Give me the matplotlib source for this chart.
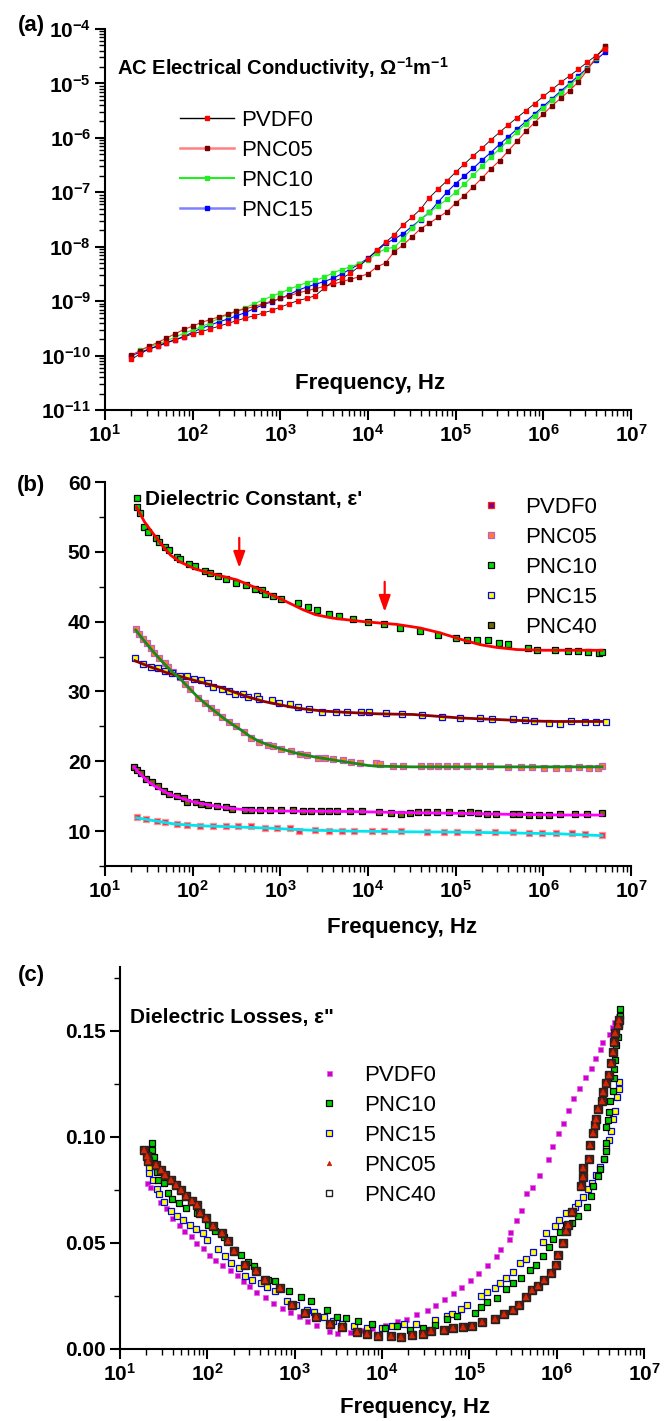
import numpy as np
import matplotlib
matplotlib.use('Agg')
import matplotlib.pyplot as plt
from matplotlib.ticker import LogLocator, MultipleLocator, NullFormatter, FormatStrFormatter
from matplotlib.lines import Line2D

plt.rcParams['font.family'] = ['Liberation Sans', 'DejaVu Sans']
plt.rcParams['mathtext.fontset'] = 'custom'
plt.rcParams['mathtext.rm'] = 'Liberation Sans'
plt.rcParams['mathtext.bf'] = 'Liberation Sans:bold'
plt.rcParams['mathtext.it'] = 'Liberation Sans:italic'

# ---------------- (a) AC conductivity, log10 values ----------------
a_logf = [1.3, 1.4, 1.5, 1.6, 1.7, 1.8, 1.9, 2.0, 2.1, 2.2, 2.3, 2.4, 2.5, 2.6,
          2.7, 2.8, 2.9, 3.0, 3.1, 3.2, 3.3, 3.4, 3.5, 3.6, 3.7, 3.8, 3.9, 4.0,
          4.1, 4.2, 4.3, 4.4, 4.5, 4.6, 4.7, 4.8, 4.9, 5.0, 5.1, 5.2, 5.3, 5.4,
          5.5, 5.6, 5.7, 5.8, 5.9, 6.0, 6.1, 6.2, 6.3, 6.4, 6.5, 6.6, 6.7]
a_pvdf0 = [-10.07, -9.97, -9.88, -9.82, -9.76, -9.71, -9.66, -9.60, -9.56, -9.51,
           -9.46, -9.41, -9.36, -9.31, -9.27, -9.22, -9.17, -9.11, -9.05, -8.99,
           -8.95, -8.90, -8.76, -8.64, -8.58, -8.49, -8.36, -8.22, -8.06, -7.92,
           -7.78, -7.60, -7.46, -7.31, -7.10, -6.94, -6.79, -6.63, -6.48, -6.33,
           -6.19, -6.04, -5.90, -5.76, -5.63, -5.50, -5.37, -5.24, -5.11, -4.98,
           -4.86, -4.74, -4.61, -4.49, -4.37]
a_pnc05 = [-9.99, -9.91, -9.83, -9.76, -9.68, -9.60, -9.52, -9.46, -9.39, -9.34,
           -9.29, -9.24, -9.18, -9.14, -9.10, -9.05, -9.00, -8.95, -8.90, -8.85,
           -8.81, -8.77, -8.73, -8.69, -8.64, -8.60, -8.55, -8.50, -8.37, -8.30,
           -8.09, -7.97, -7.82, -7.67, -7.57, -7.46, -7.36, -7.20, -7.06, -6.90,
           -6.74, -6.57, -6.42, -6.24, -6.06, -5.88, -5.72, -5.56, -5.41, -5.27,
           -5.13, -4.97, -4.76, -4.52, -4.32]
a_pnc10 = [np.nan, -9.89, -9.84, -9.79, -9.73, -9.66, -9.59, -9.53, -9.47, -9.40,
           -9.31, -9.25, -9.19, -9.12, -9.05, -8.98, -8.91, -8.85, -8.78, -8.72,
           -8.66, -8.62, -8.56, -8.48, -8.42, -8.37, -8.31, -8.25, -8.12, -8.04,
           -8.01, -7.85, -7.66, -7.49, -7.37, -7.25, -7.13, -7.00, -6.85, -6.69,
           -6.52, -6.36, -6.20, -6.05, -5.89, -5.74, -5.59, -5.45, -5.31, -5.17,
           -5.03, -4.90, -4.74, -4.53, -4.31]
a_pnc15 = [-10.00, -9.94, -9.88, -9.83, -9.77, -9.71, -9.65, -9.57, -9.50, -9.44,
           -9.38, -9.33, -9.27, -9.21, -9.14, -9.07, -9.01, -8.95, -8.88, -8.80,
           -8.74, -8.69, -8.64, -8.58, -8.50, -8.41, -8.32, -8.21, -8.08, -7.94,
           -7.86, -7.76, -7.63, -7.50, -7.37, -7.18, -7.00, -6.84, -6.70, -6.56,
           -6.41, -6.27, -6.12, -5.98, -5.84, -5.70, -5.56, -5.42, -5.28, -5.14,
           -5.00, -4.86, -4.72, -4.57, -4.43]

# ---------------- (b) dielectric constant ----------------
b_pnc10_logf = [1.36, 1.36, 1.40, 1.45, 1.49, 1.58, 1.62, 1.68, 1.73, 1.82, 1.86, 1.96,
                2.03, 2.14, 2.20, 2.29, 2.38, 2.49, 2.61, 2.71, 2.79, 2.83, 2.92, 3.01,
                3.20, 3.31, 3.42, 3.55, 3.67, 3.83, 4.00, 4.18, 4.37, 4.59, 4.80, 5.00,
                5.13, 5.24, 5.37, 5.49, 5.60, 5.82, 5.93, 6.13, 6.28, 6.40, 6.51, 6.63, 6.67]
b_pnc10 = [57.7, 56.4, 55.5, 53.5, 52.8, 52.0, 51.4, 50.7, 50.2, 49.3, 48.9, 48.3,
           48.0, 47.3, 47.0, 46.6, 46.1, 45.5, 45.2, 44.7, 44.6, 43.9, 43.7, 43.3,
           42.6, 42.1, 41.6, 41.1, 40.8, 40.4, 40.0, 39.6, 39.1, 38.7, 38.1, 37.6,
           37.4, 37.3, 37.3, 36.9, 36.8, 36.2, 35.9, 35.9, 35.8, 35.8, 35.7, 35.5, 35.7]
b_pnc15_logf = [1.34, 1.43, 1.53, 1.60, 1.68, 1.76, 1.85, 1.94, 2.02, 2.10, 2.17, 2.23,
                2.33, 2.42, 2.48, 2.57, 2.63, 2.73, 2.76, 2.90, 2.99, 3.11, 3.20, 3.33,
                3.48, 3.63, 3.76, 3.92, 4.01, 4.21, 4.39, 4.62, 4.84, 5.05, 5.28, 5.42,
                5.65, 5.79, 5.89, 6.06, 6.19, 6.31, 6.47, 6.60, 6.71]
b_pnc15 = [34.8, 34.0, 33.5, 33.4, 32.9, 32.6, 32.2, 32.2, 31.8, 31.6, 31.2, 30.7,
           30.4, 30.0, 29.6, 29.6, 29.2, 29.3, 28.9, 28.8, 28.4, 28.2, 27.8, 27.5,
           27.1, 27.1, 27.1, 27.1, 27.0, 26.9, 26.7, 26.6, 26.4, 26.2, 26.2, 26.1,
           26.1, 25.9, 25.8, 25.5, 25.4, 25.8, 25.6, 25.6, 25.6]
b_pnc05_logf = [1.35, 1.39, 1.43, 1.48, 1.53, 1.56, 1.62, 1.68, 1.72, 1.77, 1.85, 1.91,
                1.97, 2.06, 2.14, 2.21, 2.27, 2.34, 2.42, 2.50, 2.58, 2.67, 2.76, 2.86,
                2.92, 3.01, 3.12, 3.22, 3.30, 3.43, 3.51, 3.60, 3.71, 3.81, 3.91, 4.09,
                4.14, 4.29, 4.40, 4.61, 4.71, 4.80, 4.90, 5.00, 5.13, 5.27, 5.39, 5.60,
                5.75, 5.87, 6.01, 6.14, 6.28, 6.41, 6.52, 6.62, 6.67]
b_pnc05 = [39.0, 38.3, 37.5, 36.9, 36.2, 35.5, 34.8, 34.1, 33.5, 32.8, 32.0, 31.1,
           30.4, 29.1, 28.4, 27.7, 27.0, 26.3, 25.6, 25.1, 24.2, 23.4, 22.8, 22.4,
           22.2, 21.7, 21.4, 21.0, 20.9, 20.5, 20.4, 20.3, 20.2, 19.9, 19.7, 19.7,
           19.6, 19.3, 19.3, 19.3, 19.3, 19.3, 19.3, 19.3, 19.3, 19.3, 19.3, 19.2,
           19.2, 19.2, 19.1, 19.1, 19.1, 19.2, 19.1, 19.1, 19.3]
b_pnc40_logf = [1.33, 1.36, 1.41, 1.47, 1.54, 1.61, 1.67, 1.73, 1.82, 1.90, 1.94, 2.04,
                2.09, 2.18, 2.28, 2.38, 2.45, 2.60, 2.67, 2.77, 2.88, 3.01, 3.15, 3.26,
                3.35, 3.46, 3.55, 3.65, 3.79, 3.93, 4.13, 4.26, 4.38, 4.48, 4.57, 4.67,
                4.79, 4.92, 5.06, 5.16, 5.26, 5.36, 5.46, 5.65, 5.72, 5.84, 5.95, 6.06,
                6.19, 6.36, 6.50, 6.67]
b_pnc40 = [19.2, 18.8, 18.3, 17.5, 17.0, 16.4, 15.8, 15.3, 15.0, 14.7, 14.1, 14.2,
           13.9, 13.7, 13.6, 13.4, 13.2, 13.0, 13.0, 13.0, 13.0, 13.0, 13.0, 12.9,
           12.9, 12.9, 12.9, 12.9, 12.9, 12.9, 12.8, 12.6, 12.4, 12.6, 12.7, 12.7,
           12.7, 12.7, 12.6, 12.7, 12.6, 12.5, 12.5, 12.5, 12.4, 12.3, 12.3, 12.3,
           12.4, 12.5, 12.5, 12.6]
b_pvdf0_logf = [1.36, 1.47, 1.59, 1.69, 1.82, 1.94, 2.08, 2.23, 2.38, 2.52, 2.67, 2.82,
                2.96, 3.11, 3.21, 3.40, 3.55, 3.70, 3.84, 4.04, 4.18, 4.38, 4.67, 4.87,
                5.01, 5.26, 5.45, 5.65, 5.84, 5.99, 6.14, 6.33, 6.48, 6.67]
b_pvdf0 = [11.95, 11.7, 11.5, 11.3, 11.0, 10.9, 10.8, 10.8, 10.8, 10.7, 10.7, 10.5,
           10.5, 10.4, 10.05, 10.2, 10.05, 10.05, 10.05, 10.05, 10.05, 10.05, 9.9, 9.9,
           9.9, 9.8, 9.8, 9.8, 9.7, 9.7, 9.7, 9.7, 9.6, 9.4]

# fitted curves in (b)
fit10_logf = [1.36, 1.45, 1.55, 1.66, 1.75, 1.85, 1.95, 2.04, 2.27, 2.50, 2.73, 3.03,
              3.26, 3.40, 3.60, 3.95, 4.33, 4.59, 4.82, 5.05, 5.28, 5.47, 5.70, 6.00, 6.67]
fit10 = [56.4, 54.3, 52.6, 50.8, 49.5, 48.6, 48.0, 47.5, 46.7, 46.0, 44.8, 43.1,
         41.7, 41.0, 40.5, 40.0, 39.6, 39.1, 38.4, 37.5, 36.7, 36.3, 36.0, 35.9, 35.9]
fit15_logf = [1.34, 1.50, 1.70, 1.90, 2.10, 2.34, 2.61, 2.80, 2.99, 3.20, 3.48, 3.76,
              4.10, 4.52, 5.05, 5.44, 5.80, 6.10, 6.67]
fit15 = [34.4, 33.6, 32.7, 32.0, 31.3, 30.5, 29.3, 28.6, 28.1, 27.6, 27.2, 27.0,
         26.8, 26.7, 26.2, 26.0, 25.8, 25.7, 25.7]
fit05_logf = [1.35, 1.45, 1.55, 1.65, 1.75, 1.85, 1.95, 2.05, 2.15, 2.25, 2.35, 2.45,
              2.55, 2.65, 2.75, 2.85, 3.00, 3.20, 3.40, 3.60, 3.80, 4.00, 4.10, 4.50,
              5.50, 6.67]
fit05 = [38.8, 37.2, 35.7, 34.3, 33.0, 31.9, 30.6, 29.3, 28.2, 27.2, 26.2, 25.3,
         24.5, 23.6, 22.9, 22.4, 21.8, 21.1, 20.6, 20.2, 19.8, 19.4, 19.3, 19.2,
         19.2, 19.2]
fit40_logf = [1.33, 1.40, 1.50, 1.60, 1.70, 1.80, 1.90, 2.00, 2.20, 2.40, 2.60, 2.80,
              3.20, 3.80, 4.40, 5.00, 5.60, 6.20, 6.67]
fit40 = [19.2, 18.2, 17.0, 16.2, 15.5, 15.0, 14.6, 14.2, 13.7, 13.3, 13.05, 12.9,
         12.85, 12.8, 12.65, 12.55, 12.4, 12.3, 12.3]
fit0_logf = [1.36, 1.60, 1.80, 2.10, 2.50, 2.90, 3.30, 3.80, 4.40, 5.00, 5.60, 6.20, 6.67]
fit0 = [11.9, 11.4, 11.0, 10.75, 10.6, 10.4, 10.15, 10.0, 9.9, 9.85, 9.75, 9.6, 9.35]

# ---------------- (c) dielectric losses ----------------
c_pvdf0_logf = [1.31, 1.34, 1.46, 1.53, 1.60, 1.68, 1.73, 1.81, 1.87, 1.95, 2.02, 2.09,
                2.17, 2.26, 2.34, 2.41, 2.48, 2.56, 2.66, 2.75, 2.85, 2.95, 3.05, 3.14,
                3.24, 3.39, 3.49, 3.63, 3.76, 3.88, 4.03, 4.17, 4.27, 4.39, 4.52, 4.61,
                4.71, 4.81, 4.91, 5.01, 5.10, 5.20, 5.30, 5.35, 5.45, 5.47, 5.54, 5.59,
                5.65, 5.72, 5.80, 5.90, 5.95, 6.01, 6.07, 6.13, 6.19, 6.26, 6.33, 6.39,
                6.44, 6.50, 6.52, 6.60, 6.63, 6.66, 6.70]
c_pvdf0 = [0.0783, 0.0764, 0.0692, 0.0665, 0.0618, 0.0586, 0.0555, 0.0531, 0.0500, 0.0476,
           0.0445, 0.0421, 0.0398, 0.0374, 0.0351, 0.0319, 0.0296, 0.0267, 0.0245, 0.0217,
           0.0193, 0.0173, 0.0154, 0.0131, 0.0115, 0.0083, 0.0075, 0.0079, 0.0088, 0.0099,
           0.0115, 0.0131, 0.0142, 0.0167, 0.0186, 0.0209, 0.0236, 0.0264, 0.0292, 0.0327,
           0.0358, 0.0398, 0.0437, 0.0469, 0.0516, 0.0550, 0.0610, 0.0657, 0.0736, 0.0761,
           0.0819, 0.0893, 0.0956, 0.1016, 0.1063, 0.1126, 0.1181, 0.1231, 0.1280, 0.1322,
           0.1370, 0.1412, 0.1448, 0.1484, 0.1519, 0.1542, 0.1569]
c_pnc10_logf = [1.37, 1.37, 1.39, 1.41, 1.42, 1.44, 1.50, 1.55, 1.60, 1.68, 1.75, 1.88,
                2.01, 2.09, 2.19, 2.30, 2.39, 2.47, 2.53, 2.70, 2.78, 2.94, 3.07, 3.19,
                3.37, 3.49, 3.59, 3.73, 3.88, 4.03, 4.17, 4.32, 4.47, 4.61, 4.74, 4.86,
                5.06, 5.13, 5.20, 5.32, 5.42, 5.50, 5.59, 5.69, 5.76, 5.84, 5.91, 5.96,
                6.04, 6.11, 6.18, 6.25, 6.35, 6.39, 6.42, 6.47, 6.50, 6.54, 6.56, 6.57,
                6.57, 6.59, 6.60, 6.61, 6.65, 6.66, 6.66, 6.67, 6.68, 6.70, 6.71, 6.72, 6.72]
c_pnc10 = [0.0972, 0.0940, 0.0906, 0.0866, 0.0835, 0.0796, 0.0780, 0.0736, 0.0709, 0.0686,
           0.0665, 0.0642, 0.0586, 0.0555, 0.0528, 0.0465, 0.0445, 0.0409, 0.0393, 0.0327,
           0.0322, 0.0272, 0.0245, 0.0225, 0.0186, 0.0151, 0.0146, 0.0131, 0.0120, 0.0099,
           0.0110, 0.0088, 0.0099, 0.0115, 0.0142, 0.0154, 0.0170, 0.0198, 0.0220, 0.0241,
           0.0283, 0.0311, 0.0335, 0.0374, 0.0398, 0.0437, 0.0481, 0.0516, 0.0550, 0.0582,
           0.0594, 0.0626, 0.0670, 0.0720, 0.0767, 0.0814, 0.0846, 0.0893, 0.0934, 0.0972,
           0.1044, 0.1079, 0.1118, 0.1170, 0.1217, 0.1275, 0.1318, 0.1362, 0.1432, 0.1469,
           0.1531, 0.1569, 0.1600]
c_pnc15_logf = [1.33, 1.33, 1.38, 1.42, 1.45, 1.50, 1.58, 1.65, 1.72, 1.80, 1.87, 1.95,
                2.00, 2.12, 2.20, 2.27, 2.36, 2.43, 2.51, 2.61, 2.68, 2.78, 2.91, 3.02,
                3.14, 3.22, 3.34, 3.44, 3.54, 3.68, 3.83, 4.00, 4.12, 4.25, 4.39, 4.61,
                4.74, 4.80, 4.91, 4.97, 5.13, 5.20, 5.29, 5.35, 5.42, 5.50, 5.58, 5.65,
                5.73, 5.84, 5.88, 5.98, 6.03, 6.11, 6.21, 6.25, 6.30, 6.36, 6.40, 6.45,
                6.50, 6.54, 6.56, 6.60, 6.62, 6.65, 6.67, 6.69, 6.71, 6.71]
c_pnc15 = [0.0855, 0.0827, 0.0796, 0.0752, 0.0730, 0.0693, 0.0648, 0.0629, 0.0610, 0.0586,
           0.0566, 0.0547, 0.0513, 0.0469, 0.0437, 0.0406, 0.0382, 0.0346, 0.0327, 0.0311,
           0.0292, 0.0272, 0.0225, 0.0209, 0.0186, 0.0173, 0.0151, 0.0131, 0.0120, 0.0110,
           0.0099, 0.0099, 0.0107, 0.0120, 0.0120, 0.0135, 0.0157, 0.0167, 0.0189, 0.0209,
           0.0248, 0.0267, 0.0288, 0.0311, 0.0335, 0.0362, 0.0403, 0.0425, 0.0456, 0.0503,
           0.0547, 0.0579, 0.0610, 0.0642, 0.0667, 0.0686, 0.0714, 0.0752, 0.0783, 0.0819,
           0.0858, 0.0893, 0.0945, 0.0984, 0.1028, 0.1086, 0.1123, 0.1186, 0.1223, 0.1259]
c_pnc05_logf = [1.27, 1.31, 1.32, 1.41, 1.47, 1.52, 1.58, 1.64, 1.70, 1.76, 1.83, 1.88,
                1.92, 1.99, 2.07, 2.17, 2.24, 2.31, 2.43, 2.56, 2.66, 2.83, 2.97, 3.12,
                3.24, 3.40, 3.54, 3.71, 3.83, 3.95, 4.10, 4.22, 4.34, 4.47, 4.56, 4.71,
                4.81, 4.93, 5.03, 5.15, 5.29, 5.40, 5.50, 5.57, 5.65, 5.72, 5.79, 5.86,
                5.94, 5.99, 6.02, 6.07, 6.11, 6.13, 6.18, 6.28, 6.30, 6.30, 6.37, 6.38,
                6.42, 6.44, 6.45, 6.47, 6.52, 6.53, 6.56, 6.60, 6.62, 6.65, 6.66, 6.67,
                6.70, 6.71]
c_pnc05 = [0.0940, 0.0909, 0.0887, 0.0866, 0.0843, 0.0819, 0.0796, 0.0772, 0.0748, 0.0720,
           0.0698, 0.0678, 0.0642, 0.0618, 0.0579, 0.0547, 0.0508, 0.0461, 0.0398, 0.0366,
           0.0327, 0.0288, 0.0209, 0.0170, 0.0151, 0.0120, 0.0104, 0.0079, 0.0072, 0.0060,
           0.0060, 0.0057, 0.0068, 0.0072, 0.0083, 0.0091, 0.0099, 0.0104, 0.0110, 0.0126,
           0.0142, 0.0167, 0.0186, 0.0209, 0.0245, 0.0280, 0.0296, 0.0327, 0.0358, 0.0398,
           0.0445, 0.0500, 0.0555, 0.0586, 0.0645, 0.0767, 0.0811, 0.0851, 0.0893, 0.0961,
           0.1016, 0.1055, 0.1082, 0.1129, 0.1170, 0.1212, 0.1252, 0.1291, 0.1346, 0.1401,
           0.1448, 0.1487, 0.1526, 0.1550]
# PNC40 lies on top of PNC05 in the figure
c_pnc40_logf = c_pnc05_logf
c_pnc40 = c_pnc05

W, H = 665, 1421
TICK_FS = 15
LEG_FS = 16


def px_box(l, t, r, b):
    return [l / W, 1 - b / H, (r - l) / W, (b - t) / H]


def hz(logf):
    return np.power(10.0, np.array(logf, dtype=float))


def style_axes(ax):
    for s in ['top', 'right']:
        ax.spines[s].set_visible(False)
    for s in ['left', 'bottom']:
        ax.spines[s].set_linewidth(1.5)
    ax.set_xscale('log')
    ax.set_xlim(10, 1e7)
    ax.set_xticks([10.0 ** k for k in range(1, 8)],
                  [r'$\mathbf{10^{%d}}$' % k for k in range(1, 8)])
    ax.xaxis.set_minor_locator(LogLocator(base=10, subs=np.arange(2, 10), numticks=20))
    ax.xaxis.set_minor_formatter(NullFormatter())
    ax.tick_params(which='major', direction='out', length=7, width=1.5,
                   labelsize=TICK_FS, pad=3)
    ax.tick_params(which='minor', direction='out', length=4, width=1)


def bold_yticks(ax):
    for lab in ax.get_yticklabels():
        lab.set_fontweight('bold')


fig = plt.figure(figsize=(6.65, 14.21), dpi=100)

# ---------- panel (a) ----------
ax_a = fig.add_axes(px_box(105, 29, 631, 410))
fa = hz(a_logf)
ax_a.plot(fa, hz(a_pnc15), color='#0000ff', lw=0.8, marker='s', ms=2.6, mfc='#0000ff', mec='#0000ff')
ax_a.plot(fa, hz(a_pnc10), color='#22ee22', lw=0.8, marker='s', ms=2.6, mfc='#22ee22', mec='#22ee22')
ax_a.plot(fa, hz(a_pnc05), color='#ff2020', lw=0.8, marker='s', ms=2.6, mfc='#7a0000', mec='#7a0000')
ax_a.plot(fa, hz(a_pvdf0), color='black', lw=0.6, marker='s', ms=2.6, mfc='#ff0000', mec='#ff0000')
style_axes(ax_a)
ax_a.set_yscale('log')
ax_a.set_ylim(1e-11, 1e-4)
ax_a.set_yticks([10.0 ** k for k in range(-11, -3)],
                [r'$\mathbf{10^{%d}}$' % k for k in range(-11, -3)])
ax_a.yaxis.set_minor_locator(LogLocator(base=10, subs=np.arange(2, 10), numticks=20))
ax_a.yaxis.set_minor_formatter(NullFormatter())

leg_a = [Line2D([], [], color='black', lw=1.0, marker='s', ms=2.6, mfc='#ff0000', mec='#ff0000'),
         Line2D([], [], color='#ff8080', lw=1.8, marker='s', ms=2.6, mfc='#7a0000', mec='#7a0000'),
         Line2D([], [], color='#22ee22', lw=1.5, marker='s', ms=2.6, mfc='#22ee22', mec='#22ee22'),
         Line2D([], [], color='#8080ff', lw=1.8, marker='s', ms=2.6, mfc='#0000ff', mec='#0000ff')]
ax_a.legend(leg_a, ['PVDF0', 'PNC05', 'PNC10', 'PNC15'], loc='upper left',
            bbox_to_anchor=(180 / W, 1 - 110 / H), bbox_transform=fig.transFigure,
            frameon=False, fontsize=LEG_FS, handlelength=2.43, handletextpad=0.32,
            labelspacing=0.4, borderpad=0, borderaxespad=0, numpoints=1)

# ---------- panel (b) ----------
ax_b = fig.add_axes(px_box(105, 482, 631, 866))
mk = dict(ls='none', marker='s', ms=5, mew=0.9)
ax_b.plot(hz(b_pvdf0_logf), b_pvdf0, mfc='#ff2040', mec='#ff9090', **mk)
ax_b.plot(hz(b_pnc05_logf), b_pnc05, mfc='#ff7f27', mec='#c060c0', **mk)
ax_b.plot(hz(b_pnc40_logf), b_pnc40, mfc='#6b6b00', mec='black', **mk)
ax_b.plot(hz(b_pnc15_logf), b_pnc15, mfc='#ffff00', mec='#0000ff', **mk)
ax_b.plot(hz(b_pnc10_logf), b_pnc10, mfc='#00dd00', mec='black', **mk)
ax_b.plot(hz(fit10_logf), fit10, color='#ff0000', lw=2)
ax_b.plot(hz(fit15_logf), fit15, color='#8b0000', lw=2)
ax_b.plot(hz(fit05_logf), fit05, color='#1a8a1a', lw=2)
ax_b.plot(hz(fit40_logf), fit40, color='#ff00ff', lw=2)
ax_b.plot(hz(fit0_logf), fit0, color='#00e5ee', lw=2)
style_axes(ax_b)
ax_b.set_ylim(5, 60)
ax_b.yaxis.set_major_locator(MultipleLocator(10))
ax_b.yaxis.set_minor_locator(MultipleLocator(5))
bold_yticks(ax_b)

for f0, y0, y1 in [(340, 52.4, 47.3), (15500, 46.1, 41.0)]:
    ax_b.annotate('', xy=(f0, y1), xytext=(f0, y0),
                  arrowprops=dict(arrowstyle='-|>,head_length=0.7,head_width=0.25',
                                  color='#ff0000', lw=1.6, mutation_scale=14))

leg_b = [Line2D([], [], mfc='#800080', mec='#ff2020', **mk),
         Line2D([], [], mfc='#ff7f27', mec='#c060c0', **mk),
         Line2D([], [], mfc='#00dd00', mec='black', **mk),
         Line2D([], [], mfc='#ffff00', mec='#0000ff', **mk),
         Line2D([], [], mfc='#6b6b00', mec='black', **mk)]
ax_b.legend(leg_b, ['PVDF0', 'PNC05', 'PNC10', 'PNC15', 'PNC40'], loc='upper left',
            bbox_to_anchor=(480 / W, 1 - 497 / H), bbox_transform=fig.transFigure,
            frameon=False, fontsize=LEG_FS, handlelength=1.0, handletextpad=1.03,
            labelspacing=0.4, borderpad=0, borderaxespad=0, numpoints=1)

# ---------- panel (c) ----------
ax_c = fig.add_axes(px_box(120, 967, 644, 1349))
ax_c.plot(hz(c_pvdf0_logf), c_pvdf0, ls='none', marker='s', ms=3.6, mfc='#d000d0', mec='#e060e0', mew=0.5)
ax_c.plot(hz(c_pnc15_logf), c_pnc15, ls='none', marker='s', ms=5, mfc='#ffff00', mec='#0000ff', mew=0.9)
ax_c.plot(hz(c_pnc10_logf), c_pnc10, ls='none', marker='s', ms=5, mfc='#00cc00', mec='black', mew=0.9)
ax_c.plot(hz(c_pnc40_logf), c_pnc40, ls='none', marker='s', ms=5.2, mfc='#5a1a10', mec='#222222', mew=1.0)
ax_c.plot(hz(c_pnc05_logf), c_pnc05, ls='none', marker='^', ms=3.8, mfc='#d02808', mec='#d02808', mew=0.3)
style_axes(ax_c)
ax_c.set_ylim(0, 0.18)
ax_c.yaxis.set_major_locator(MultipleLocator(0.05))
ax_c.yaxis.set_minor_locator(MultipleLocator(0.025))
ax_c.yaxis.set_major_formatter(FormatStrFormatter('%.2f'))
bold_yticks(ax_c)

leg_c = [Line2D([], [], ls='none', marker='s', ms=3.6, mfc='#d000d0', mec='#e060e0', mew=0.5),
         Line2D([], [], ls='none', marker='s', ms=5, mfc='#00cc00', mec='black', mew=0.9),
         Line2D([], [], ls='none', marker='s', ms=5, mfc='#ffff00', mec='#0000ff', mew=0.9),
         Line2D([], [], ls='none', marker='^', ms=3.2, mfc='#c02000', mec='#c02000', mew=0.5),
         Line2D([], [], ls='none', marker='s', ms=4.5, mfc='none', mec='#222222', mew=1.0)]
ax_c.legend(leg_c, ['PVDF0', 'PNC10', 'PNC15', 'PNC05', 'PNC40'], loc='upper left',
            bbox_to_anchor=(318 / W, 1 - 1065 / H), bbox_transform=fig.transFigure,
            frameon=False, fontsize=LEG_FS, handlelength=1.0, handletextpad=1.07,
            labelspacing=0.4, borderpad=0, borderaxespad=0, numpoints=1)


# ---------- texts ----------
def ftext(x, y, s, **kw):
    fig.text(x / W, 1 - y / H, s, **kw)


for lab, yy in [('(a)', 25), ('(b)', 485), ('(c)', 975)]:
    ftext(31, yy, lab, fontsize=16, fontweight='bold', ha='center', va='center')
ftext(117, 68, r'AC Electrical Conductivity, $\mathbf{\Omega^{-1}m^{-1}}$',
      fontsize=14.5, fontweight='bold', ha='left', va='center')
ftext(145, 499, "Dielectric Constant, \u03b5'", fontsize=15, fontweight='bold', ha='left', va='center')
ftext(130, 1017, 'Dielectric Losses, \u03b5"', fontsize=15, fontweight='bold', ha='left', va='center')
ftext(370, 383, 'Frequency, Hz', fontsize=16, fontweight='bold', ha='center', va='center')
ftext(402, 927, 'Frequency, Hz', fontsize=16, fontweight='bold', ha='center', va='center')
ftext(415, 1407, 'Frequency, Hz', fontsize=16, fontweight='bold', ha='center', va='center')

fig.savefig('out.png', dpi=100)
